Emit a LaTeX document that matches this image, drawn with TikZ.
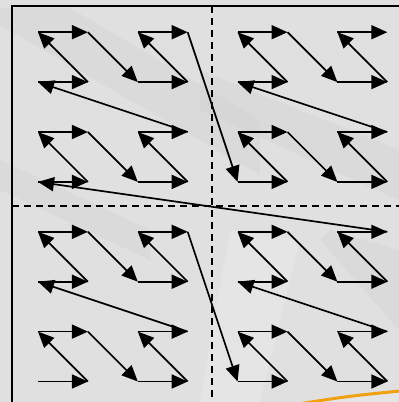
\documentclass[tikz,border=0pt]{standalone}
\usetikzlibrary{arrows.meta}
\definecolor{bgc}{HTML}{E0E0E0}
\definecolor{bandc}{HTML}{CFCFCF}
\definecolor{lightc}{HTML}{EAEAEA}
\definecolor{orangec}{HTML}{F0A010}
\begin{document}
\begin{tikzpicture}[x=1pt,y=-1pt,
  seg/.style={line width=1.7pt,-{Triangle[length=16pt,width=14pt]}},
  frameline/.style={line width=1.8pt},
  divider/.style={line width=1.5pt,dash pattern=on 7pt off 5pt},
  band/.style={fill=bandc,opacity=0.35},
  lightband/.style={fill=lightc,opacity=0.5}]
\useasboundingbox (0,0) rectangle (399,402);
\begin{scope}
\clip (0,0) rectangle (399,402);
\fill[bgc] (0,0) rectangle (399,402);
% background bands
\fill[band] (0,8) -- (70,8) -- (260,120) -- (260,175) -- (0,25) -- cycle;
\fill[band] (200,70) -- (399,150) -- (399,200) -- (200,110) -- cycle;
\fill[band] (0,160) -- (150,230) -- (150,260) -- (0,190) -- cycle;
\fill[lightband] (230,230) -- (300,240) -- (260,402) -- (200,402) -- cycle;
\fill[band] (330,230) -- (399,250) -- (399,330) -- (320,240) -- cycle;
\fill[lightband] (400,392) .. controls (350,396) .. (298,404) -- (400,404) -- cycle;
\draw[orangec,line width=3pt] (298,404) .. controls (350,396) .. (400,391);
% frame and dividers
\draw[frameline] (12,6) rectangle (412,406);
\draw[divider] (212,6) -- (212,406);
\draw[divider] (12,206) -- (412,206);
\end{scope}
% curve points (Morton order, bottom-up)
\foreach \i in {0,...,63}{
  \pgfmathtruncatemacro\cx{mod(\i,2)+2*mod(int(\i/4),2)+4*mod(int(\i/16),2)}
  \pgfmathtruncatemacro\cy{mod(int(\i/2),2)+2*mod(int(\i/8),2)+4*mod(int(\i/32),2)}
  \coordinate (p\i) at ({38+49.9*\cx},{381.5-49.9*\cy});
}
\foreach \i [evaluate=\i as \j using int(\i+1)] in {0,...,62}{
  \draw[seg] (p\i) -- (p\j);
}
\end{tikzpicture}
\end{document}
